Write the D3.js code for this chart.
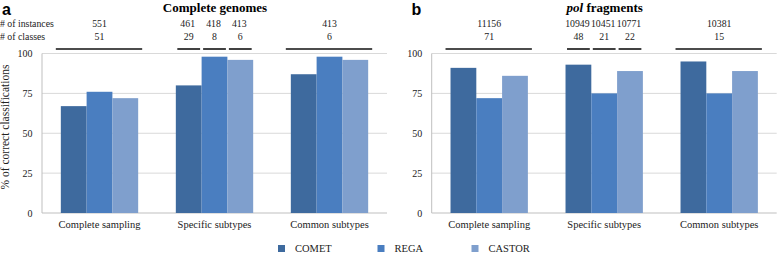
<!DOCTYPE html>
<html>
<head>
<meta charset="utf-8">
<script src="https://cdn.jsdelivr.net/npm/d3@7"></script>
<style>
  body { margin: 0; background: #fff; }
  svg { font-family: "Liberation Serif", "Times New Roman", serif; }
  text { fill: #222; }
</style>
</head>
<body>
<svg id="chart" width="777" height="253"></svg>
<script>
// ---- data ----
const categories = ["Complete sampling", "Specific subtypes", "Common subtypes"];
const methods = ["COMET", "REGA", "CASTOR"];
const methodColors = ["#3e6a9e", "#4a7ec0", "#7f9fcd"];
const yTicks = [0, 25, 50, 75, 100];

const genomeComet = [67, 80, 87];
const genomeRega = [76, 98, 98];
const genomeCastor = [72, 96, 96];
const genomeInstances = [["551"], ["461", "418", "413"], ["413"]];
const genomeClasses = [["51"], ["29", "8", "6"], ["6"]];

const polComet = [91, 93, 95];
const polRega = [72, 75, 75];
const polCastor = [86, 89, 89];
const polInstances = [["11156"], ["10949", "10451", "10771"], ["10381"]];
const polClasses = [["71"], ["48", "21", "22"], ["15"]];

const svg = d3.select("#chart");

const y = d3.scaleLinear().domain([0, 100]).range([213, 53.5]);
const color = d3.scaleOrdinal().domain(methods).range(methodColors);

const instRowY = 27.3, classRowY = 39.6;

function panel(opts) {
    const g = svg.append("g");
    const x0 = d3.scaleBand().domain(categories).range([opts.left, opts.right]).padding(0);
    const x1 = d3.scaleBand().domain(methods).range([0, x0.bandwidth()])
        .paddingInner(0).paddingOuter(0.73);

    // gridlines
    g.selectAll(".grid").data(yTicks.filter(d => d > 0)).enter().append("line")
        .attr("x1", opts.left).attr("x2", opts.right)
        .attr("y1", d => y(d)).attr("y2", d => y(d))
        .attr("stroke", "#d9d9d9").attr("stroke-width", 1);

    // axes lines
    g.append("line").attr("x1", opts.left).attr("x2", opts.left)
        .attr("y1", y(100)).attr("y2", y(0)).attr("stroke", "#bfbfbf");
    g.append("line").attr("x1", opts.left).attr("x2", opts.right)
        .attr("y1", y(0)).attr("y2", y(0)).attr("stroke", "#bfbfbf");

    // tick labels
    g.selectAll(".tick").data(yTicks).enter().append("text")
        .attr("x", opts.left - 9.5).attr("y", d => y(d) + 3.5)
        .attr("text-anchor", "end").style("font-size", "10px")
        .text(d => d);

    // bars
    const rows = categories.map((c, i) => ({
        cat: c,
        vals: methods.map((m, j) => ({ m: m, v: opts.series[j][i] }))
    }));
    const grp = g.selectAll(".grp").data(rows).enter().append("g")
        .attr("transform", d => `translate(${x0(d.cat)},0)`);
    grp.selectAll("rect").data(d => d.vals).enter().append("rect")
        .attr("x", d => x1(d.m)).attr("width", x1.bandwidth())
        .attr("y", d => y(d.v)).attr("height", d => y(0) - y(d.v))
        .attr("fill", d => color(d.m));

    // category labels
    g.selectAll(".cat").data(categories).enter().append("text")
        .attr("x", d => x0(d) + x0.bandwidth() / 2).attr("y", 228)
        .attr("text-anchor", "middle").style("font-size", "10.5px")
        .text(d => d);

    // instance / class annotations with bracket lines
    categories.forEach((c, i) => {
        const inst = opts.instances[i];
        const cls = opts.classes[i];
        if (inst.length === 1) {
            const cx = x0(c) + x0.bandwidth() / 2;
            const a = x0(c) + x1(methods[0]) - 5;
            const b = x0(c) + x1(methods[2]) + x1.bandwidth() + 4;
            g.append("text").attr("x", cx).attr("y", instRowY).attr("text-anchor", "middle")
                .style("font-size", "9.8px").text(inst[0]);
            g.append("text").attr("x", cx).attr("y", classRowY).attr("text-anchor", "middle")
                .style("font-size", "9.8px").text(cls[0]);
            g.append("line").attr("x1", a).attr("x2", b).attr("y1", 49).attr("y2", 49)
                .attr("stroke", "#111").attr("stroke-width", 1.6);
        } else {
            inst.forEach((t, j) => {
                const bx = x0(c) + x1(methods[j]);
                const cx = bx + x1.bandwidth() / 2;
                g.append("text").attr("x", cx - 1).attr("y", instRowY).attr("text-anchor", "middle")
                    .style("font-size", "9.8px").text(t);
                g.append("text").attr("x", cx).attr("y", classRowY).attr("text-anchor", "middle")
                    .style("font-size", "9.8px").text(cls[j]);
                g.append("line").attr("x1", bx + 1.5).attr("x2", bx + x1.bandwidth() - 1.5)
                    .attr("y1", 49).attr("y2", 49)
                    .attr("stroke", "#111").attr("stroke-width", 1.6);
            });
        }
    });

    // title
    const title = g.append("text").attr("x", (opts.left + opts.right) / 2 + 0.5).attr("y", 11.5)
        .attr("text-anchor", "middle").style("font-size", "13px").style("font-weight", "bold")
        .style("fill", "#000");
    if (opts.italicWord) {
        title.append("tspan").style("font-style", "italic").text(opts.italicWord);
        title.append("tspan").text(opts.title);
    } else {
        title.text(opts.title);
    }

    // panel letter
    g.append("text").attr("x", opts.letterX).attr("y", 14.6)
        .style("font-family", "'Liberation Sans', Arial, sans-serif")
        .style("font-size", "16px").style("font-weight", "bold").style("fill", "#000")
        .text(opts.letter);
}

panel({
    left: 42, right: 387, series: [genomeComet, genomeRega, genomeCastor],
    instances: genomeInstances, classes: genomeClasses,
    title: "Complete genomes", letter: "a", letterX: 2
});
panel({
    left: 431.7, right: 776.7, series: [polComet, polRega, polCastor],
    instances: polInstances, classes: polClasses,
    italicWord: "pol", title: " fragments", letter: "b", letterX: 411.5
});

// row labels for the annotations
svg.append("text").attr("x", 0).attr("y", instRowY).style("font-size", "9.8px").text("# of instances");
svg.append("text").attr("x", 0).attr("y", classRowY).style("font-size", "9.8px").text("# of classes");

// y axis title
svg.append("text")
    .attr("transform", "translate(8.5,127) rotate(-90)")
    .attr("text-anchor", "middle").style("font-size", "11.5px")
    .text("% of correct classifications");

// legend
const legendX = [278, 377.5, 471.5];
const legend = svg.selectAll(".legend").data(methods).enter().append("g")
    .attr("transform", (d, i) => `translate(${legendX[i]},245)`);
legend.append("rect").attr("width", 7).attr("height", 7).attr("fill", d => color(d));
legend.append("text").attr("x", 17).attr("y", 7).style("font-size", "10.5px").text(d => d);
</script>
</body>
</html>
